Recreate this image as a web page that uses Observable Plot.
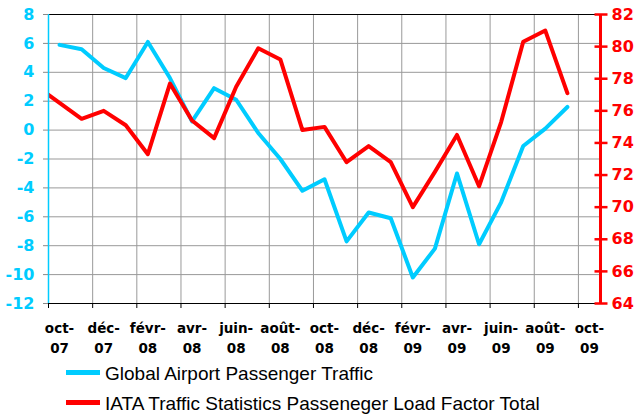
<!DOCTYPE html>
<html><head><meta charset="utf-8">
<script src="https://cdn.jsdelivr.net/npm/d3@7"></script>
<script src="https://cdn.jsdelivr.net/npm/@observablehq/plot@0.6"></script>
<style>
body{margin:0;background:#fff;width:635px;height:414px;overflow:hidden}
#legend{font-family:"Liberation Sans",Arial,sans-serif;font-size:19px;color:#000;margin-top:-3px}
.row{display:flex;align-items:center;height:30px;padding-left:66px}
.sw{width:34px;height:5px;margin-right:5px}
.tx{position:relative;top:2px}
</style></head><body>
<div id="chart"></div>
<div id="legend"></div>
<script>
// Months (index 0 = sept-07, partly outside the visible frame)
const months = ["sept-07","oct-07","nov-07","déc-07","janv-08","févr-08","mars-08","avr-08","mai-08","juin-08","juil-08","août-08","sept-08","oct-08","nov-08","déc-08","janv-09","févr-09","mars-09","avr-09","mai-09","juin-09","juil-09","août-09","sept-09","oct-09"];
const labelMonths = ["oct-07","déc-07","févr-08","avr-08","juin-08","août-08","oct-08","déc-08","févr-09","avr-09","juin-09","août-09","oct-09"];
const seriesNames = ["Global Airport Passenger Traffic","IATA Traffic Statistics Passeneger Load Factor Total"];
const passengerTraffic = [null, 5.9, 5.6, 4.3, 3.6, 6.1, 3.6, 0.6, 2.9, 2.1, -0.2, -2.0, -4.2, -3.4, -7.7, -5.7, -6.1, -10.2, -8.2, -3.0, -7.9, -5.0, -1.1, 0.1, 1.6, null];
const loadFactor = [77.5, 76.5, 75.5, 76.0, 75.1, 73.3, 77.7, 75.4, 74.3, 77.5, 79.9, 79.2, 74.8, 75.0, 72.8, 73.8, 72.8, 70.0, 72.2, 74.5, 71.3, 75.3, 80.3, 81.0, 77.1, null];
const leftTicks = [-12, -10, -8, -6, -4, -2, 0, 2, 4, 6, 8];
const rightTicks = [64, 66, 68, 70, 72, 74, 76, 78, 80, 82];

const cyan = "#00CCFF", red = "#FF0000";
const leftDomain = [d3.min(leftTicks), d3.max(leftTicks)];
const rightDomain = [d3.min(rightTicks), d3.max(rightTicks)];
const toLeft = d3.scaleLinear().domain(rightDomain).range(leftDomain);

const labelIdx = labelMonths.map(m => months.indexOf(m));
const boundaries = labelIdx.map(i => i - 0.5);
const xDomain = [0.5, months.length - 0.5];

const blueData = months.map((m, i) => ({i, v: passengerTraffic[i]})).filter(d => d.v != null);
const redData = months.map((m, i) => ({i, v: loadFactor[i]})).filter(d => d.v != null).map(d => ({i: d.i, v: toLeft(d.v), raw: d.v}));
const rightPos = rightTicks.map(t => toLeft(t));

const axisFont = {fontFamily: "DejaVu Sans", fontWeight: "bold"};

const chart = Plot.plot({
  width: 635, height: 360,
  marginLeft: 48, marginRight: 35, marginTop: 14, marginBottom: 57,
  x: {domain: xDomain},
  y: {domain: leftDomain},
  style: {background: "white", overflow: "visible"},
  marks: [
    Plot.gridX(boundaries.filter(b => b > xDomain[0] && b < xDomain[1]), {stroke: "#999", strokeOpacity: 1}),
    Plot.gridY(leftTicks, {stroke: "#999", strokeOpacity: 1}),
    Plot.ruleY([leftDomain[1]], {stroke: "#000", strokeWidth: 1.2}),
    Plot.ruleY([leftDomain[0]], {stroke: "#000", strokeWidth: 1}),
    Plot.line(blueData, {x: "i", y: "v", stroke: cyan, strokeWidth: 4, strokeLinejoin: "round", clip: true}),
    Plot.line(redData, {x: "i", y: "v", stroke: red, strokeWidth: 4, strokeLinejoin: "round", clip: true}),
    Plot.ruleX([xDomain[0]], {stroke: cyan, strokeWidth: 1.5}),
    Plot.ruleX([xDomain[1]], {stroke: red, strokeWidth: 3}),
    Plot.axisY(leftTicks, {anchor: "left", tickSize: 5, tickPadding: 9, stroke: "#888", fill: cyan, fontSize: 16, ...axisFont, tickFormat: d => String(d), label: null}),
    Plot.axisY(rightPos, {anchor: "right", tickSize: 13, dx: -6.5, stroke: red, strokeWidth: 2.5, fill: "none", label: null}),
    Plot.axisY(rightPos, {anchor: "right", tickSize: 0, tickPadding: 11, stroke: "none", fill: red, fontSize: 16, ...axisFont, label: null, tickFormat: v => String(Math.round(toLeft.invert(v)))}),
    Plot.axisX(boundaries, {anchor: "bottom", tickSize: 5, stroke: "#000", fill: "none", label: null}),
    Plot.axisX(labelIdx, {anchor: "bottom", tickSize: 0, tickPadding: 16, lineAnchor: "top", lineHeight: 1.45, stroke: "none", fill: "#000", fontSize: 13.5, ...axisFont, label: null, tickFormat: i => months[i].replace("-", "-\n")})
  ]
});
document.getElementById("chart").append(chart);

const legend = document.getElementById("legend");
[cyan, red].forEach((c, k) => {
  const row = document.createElement("div");
  row.className = "row";
  const sw = document.createElement("span");
  sw.className = "sw"; sw.style.background = c;
  const tx = document.createElement("span");
  tx.className = "tx";
  tx.textContent = seriesNames[k];
  row.append(sw, tx);
  legend.append(row);
});
</script>
</body></html>
